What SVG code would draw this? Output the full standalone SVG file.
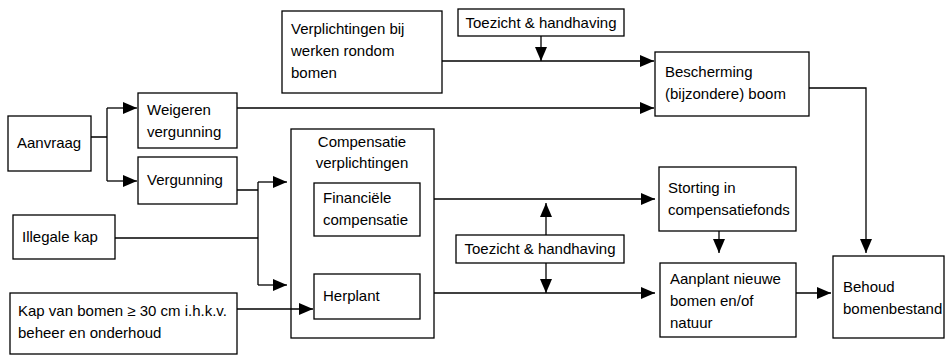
<svg xmlns="http://www.w3.org/2000/svg" width="945" height="356" viewBox="0 0 945 356">
<style>
.box{fill:#fff;stroke:#000;stroke-width:1.3}
.t{font-family:"Liberation Sans",Arial,sans-serif;font-size:15px;fill:#000}
.c{fill:none;stroke:#000;stroke-width:1.3}
</style>
<defs>
<marker id="a" markerUnits="userSpaceOnUse" markerWidth="14" markerHeight="12" refX="14" refY="6" orient="auto">
<path d="M0,0 L14,6 L0,12 z" fill="#000"/>
</marker>
</defs>
<rect width="945" height="356" fill="#fff"/>
<g id="aanvraag"><rect class="box" x="8" y="116" width="83" height="55"/><text class="t" x="17" y="148">Aanvraag</text></g>
<g id="weigeren"><rect class="box" x="138" y="93" width="99" height="55"/><text class="t" x="147" y="115">Weigeren</text><text class="t" x="147" y="137">vergunning</text></g>
<g id="vergunning"><rect class="box" x="138" y="157" width="99" height="47"/><text class="t" x="147" y="185">Vergunning</text></g>
<g id="illegale"><rect class="box" x="13" y="215" width="102" height="44"/><text class="t" x="22" y="242">Illegale kap</text></g>
<g id="kap"><rect class="box" x="10" y="293" width="227" height="61"/><text class="t" x="18" y="316">Kap van bomen ≥ 30 cm i.h.k.v.</text><text class="t" x="18" y="338">beheer en onderhoud</text></g>
<g id="verplichtingen"><rect class="box" x="282" y="11" width="160" height="82"/><text class="t" x="291" y="34">Verplichtingen bij</text><text class="t" x="291" y="56">werken rondom</text><text class="t" x="291" y="78">bomen</text></g>
<g id="toezicht1"><rect class="box" x="458" y="9" width="166" height="27"/><text class="t" x="541" y="28" text-anchor="middle">Toezicht &amp; handhaving</text></g>
<g id="compensatie"><rect class="box" x="291" y="129" width="143" height="209"/><text class="t" x="362" y="147" text-anchor="middle">Compensatie</text><text class="t" x="362" y="168" text-anchor="middle">verplichtingen</text></g>
<g id="financiele"><rect class="box" x="314" y="183" width="106" height="53"/><text class="t" x="323" y="203">Financiële</text><text class="t" x="323" y="225">compensatie</text></g>
<g id="herplant"><rect class="box" x="314" y="274" width="106" height="45"/><text class="t" x="323" y="301">Herplant</text></g>
<g id="toezicht2"><rect class="box" x="456" y="235" width="168" height="28"/><text class="t" x="540" y="254" text-anchor="middle">Toezicht &amp; handhaving</text></g>
<g id="bescherming"><rect class="box" x="655" y="52" width="154" height="64"/><text class="t" x="665" y="77">Bescherming</text><text class="t" x="665" y="99">(bijzondere) boom</text></g>
<g id="storting"><rect class="box" x="659" y="167" width="137" height="64"/><text class="t" x="668" y="193">Storting in</text><text class="t" x="668" y="215">compensatiefonds</text></g>
<g id="aanplant"><rect class="box" x="660" y="263" width="136" height="74"/><text class="t" x="670" y="284">Aanplant nieuwe</text><text class="t" x="670" y="306">bomen en/of</text><text class="t" x="670" y="328">natuur</text></g>
<g id="behoud"><rect class="box" x="833" y="256" width="111" height="82"/><text class="t" x="843" y="292">Behoud</text><text class="t" x="843" y="314">bomenbestand</text></g>
<g id="connectors">
<path class="c" d="M91,137 H107 M107,108 V181"/>
<path class="c" d="M107,108 H137" marker-end="url(#a)"/>
<path class="c" d="M107,181 H137" marker-end="url(#a)"/>
<path class="c" d="M237,108 H654" marker-end="url(#a)"/>
<path class="c" d="M442,61 H654" marker-end="url(#a)"/>
<path class="c" d="M541,36 V61" marker-end="url(#a)"/>
<path class="c" d="M237,190 H258 M258,182 V285"/>
<path class="c" d="M258,182 H287" marker-end="url(#a)"/>
<path class="c" d="M258,285 H287" marker-end="url(#a)"/>
<path class="c" d="M115,238 H258"/>
<path class="c" d="M237,309 H313" marker-end="url(#a)"/>
<path class="c" d="M434,199 H655" marker-end="url(#a)"/>
<path class="c" d="M434,293 H655" marker-end="url(#a)"/>
<path class="c" d="M546,235 V203" marker-end="url(#a)"/>
<path class="c" d="M546,263 V293" marker-end="url(#a)"/>
<path class="c" d="M719,231 V253" marker-end="url(#a)"/>
<path class="c" d="M796,293 H831" marker-end="url(#a)"/>
<path class="c" d="M809,88 H866 V253" marker-end="url(#a)"/>
</g>
</svg>
